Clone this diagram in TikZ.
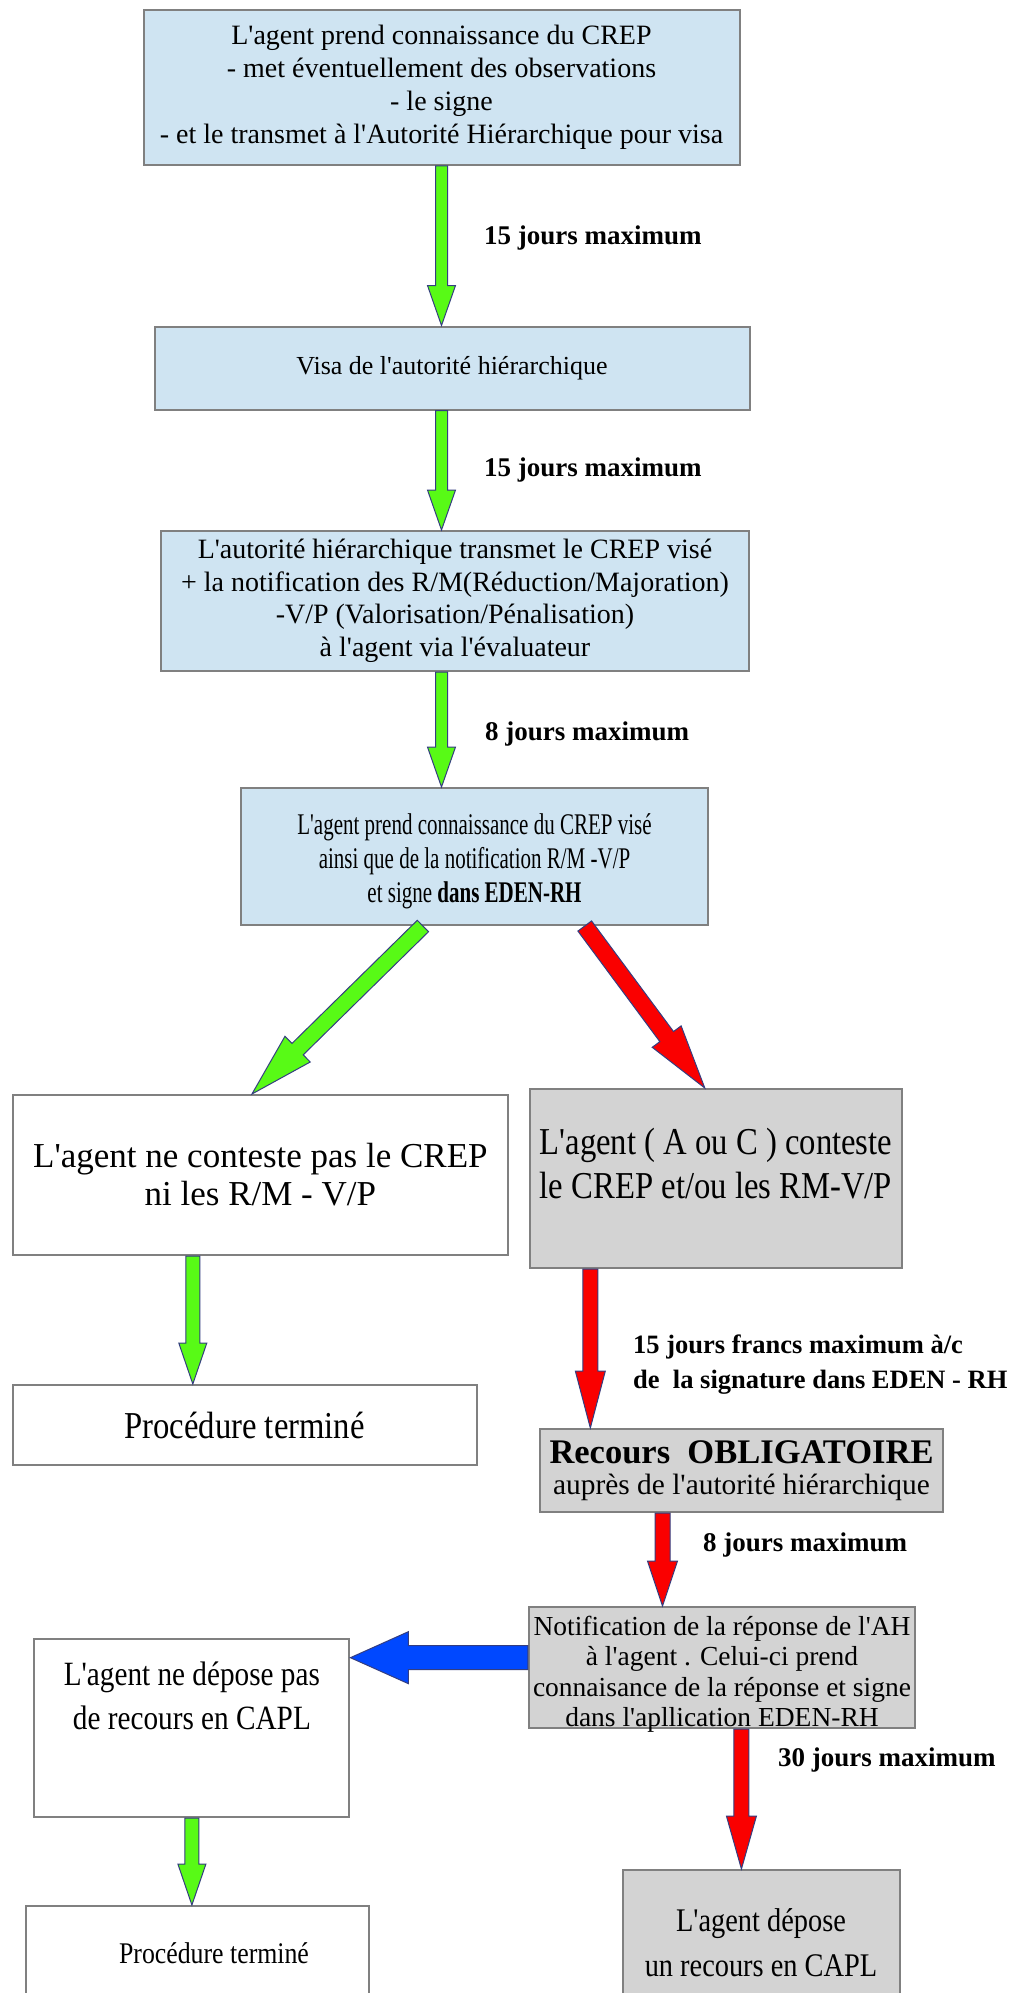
\documentclass[tikz,border=0pt]{standalone}
\usepackage{fontspec}
\setmainfont[Ligatures=TeXOff]{Liberation Serif}
\newfontfamily\tightserif[FakeStretch=0.70]{Liberation Serif}
\newfontfamily\slimserif[FakeStretch=0.86]{Liberation Serif}
\usetikzlibrary{calc}
\usetikzlibrary{arrows}
\definecolor{paleblue}{RGB}{207,228,242}
\definecolor{lightgrey}{RGB}{211,211,211}
\definecolor{boxline}{RGB}{128,128,128}
\definecolor{arrowgreen}{RGB}{88,250,22}
\definecolor{arrowred}{RGB}{250,0,0}
\definecolor{arrowblue}{RGB}{0,72,255}
\definecolor{arrowedge}{RGB}{52,62,128}
% #1 colour, #2 half shaft, #3 half head, #4 head length, #5 from, #6 to
\newcommand{\blockarrow}[6]{
	\coordinate (ta) at (#5);
	\coordinate (tb) at (#6);
	\coordinate (th) at ($(tb)!#4!(ta)$);
	\draw[arrowline,fill=#1] ($(ta)!#2!90:(tb)$) -- ($(th)!#2!90:(tb)$) --
	($(th)!#3!90:(tb)$) -- (tb) -- ($(th)!#3!-90:(tb)$) --
	($(th)!#2!-90:(tb)$) -- ($(ta)!#2!-90:(tb)$) -- cycle;}
\begin{document}
\begin{tikzpicture}[x=1pt,y=-1pt,
box/.style={draw=boxline,line width=2pt,align=center,inner sep=0pt},
bluebox/.style={box,fill=paleblue},
greybox/.style={box,fill=lightgrey},
whitebox/.style={box,fill=white},
delay/.style={anchor=west,inner sep=0pt,align=left,font=\bfseries\fontsize{27}{35}\selectfont},
arrowline/.style={draw=arrowedge,line width=1pt,line join=miter}]
\useasboundingbox (0,0) rectangle (1019,1993);
\fill[white] (0,0) rectangle (1019,1993);

% The main column
\node[bluebox,minimum width=596pt,minimum height=155pt,font=\fontsize{28}{33}\selectfont] (crep) at (441.5,87.5)
{L'agent prend connaissance du CREP\\- met éventuellement des observations\\- le signe\\- et le transmet à l'Autorité Hiérarchique pour visa};
\node[bluebox,minimum width=595pt,minimum height=83pt,font=\fontsize{26}{33}\selectfont] (visa) at (452,368)
{Visa de l'autorité hiérarchique};
\node[bluebox,minimum width=588pt,minimum height=140pt,font=\fontsize{28}{32.5}\selectfont] (transmit) at (455,601)
{L'autorité hiérarchique transmet le CREP visé\\+ la notification des R/M(Réduction/Majoration)\\-V/P (Valorisation/Pénalisation)\\à l'agent via l'évaluateur};
\node[bluebox,minimum width=467pt,minimum height=137pt,font=\tightserif\fontsize{30}{34}\selectfont] (agentsign) at (474.5,856.5)
{\rule{0pt}{31pt}L'agent prend connaissance du CREP visé\\ainsi que de la notification R/M -V/P\\et signe \textbf{dans EDEN-RH}};

% Left branch
\node[whitebox,minimum width=495pt,minimum height=160pt,font=\fontsize{35}{38}\selectfont] (nocontest) at (260.4,1175)
{L'agent ne conteste pas le CREP\\ni les R/M - V/P};
\node[whitebox,minimum width=464pt,minimum height=80pt,font=\slimserif\fontsize{38}{44}\selectfont] (endA) at (244.6,1425)
{Procédure terminé};

% Right branch
\node[greybox,minimum width=372pt,minimum height=179pt,font=\slimserif\fontsize{38}{44.5}\selectfont] (contest) at (716,1178.5)
{L'agent ( A ou C ) conteste\\le CREP et/ou les RM-V/P\\[-14pt]\mbox{}};
\node[greybox,minimum width=403pt,minimum height=83pt,font=\fontsize{29.4}{31.5}\selectfont] (recours) at (741.5,1470.5)
{{\bfseries\fontsize{34.5}{36}\selectfont Recours~ OBLIGATOIRE}\\auprès de l'autorité hiérarchique};
\node[greybox,minimum width=386.5pt,minimum height=121pt,text depth=0pt,font=\fontsize{27.5}{30.5}\selectfont] (notif) at (722,1667.5)
{\rule{0pt}{27pt}Notification de la réponse de l'AH\\à l'agent . Celui-ci prend\\connaisance de la réponse et signe\\dans l'apllication EDEN-RH};
\node[whitebox,minimum width=315pt,minimum height=178pt,font=\slimserif\fontsize{34}{44}\selectfont] (nodeposit) at (191.9,1728)
{L'agent ne dépose pas\\de recours en CAPL\\[20pt]\mbox{}};
\node[whitebox,minimum width=343pt,minimum height=94pt,font=\slimserif\fontsize{30}{36}\selectfont] (endB) at (197,1953)
{\hspace*{34pt}Procédure terminé};
\node[greybox,minimum width=277pt,minimum height=145pt,font=\slimserif\fontsize{33}{44.5}\selectfont] (capl) at (761,1942.5)
{L'agent dépose\\un recours en CAPL};

% The delays
\node[delay] (d1) at (484,238) {15 jours maximum};
\node[delay] (d2) at (484,470) {15 jours maximum};
\node[delay] (d3) at (485,734) {8 jours maximum};
\node[delay,font=\bfseries\fontsize{26.5}{35}\selectfont] (d4) at (633,1364.5) {15 jours francs maximum à/c\\de~ la signature dans EDEN - RH};
\node[delay] (d5) at (703,1545) {8 jours maximum};
\node[delay] (d6) at (778,1760) {30 jours maximum};

% Anchor points of the arrows
\coordinate (gs) at ($(agentsign.south west)!0.39!(agentsign.south east)$);
\coordinate (ge) at ($(nocontest.north west)!0.483!(nocontest.north east)$);
\coordinate (rs) at ($(agentsign.south west)!0.735!(agentsign.south east)$);
\coordinate (re) at ($(contest.north west)!0.47!(contest.north east)$);
\coordinate (r1) at ($(contest.south west)!0.164!(contest.south east)$);
\coordinate (r2) at ($(recours.south west)!0.305!(recours.south east)$);
\coordinate (r3) at ($(notif.south west)!0.55!(notif.south east)$);
\coordinate (g1) at ($(nocontest.south west)!0.364!(nocontest.south east)$);
\coordinate (b1) at ($(notif.north west)!0.42!(notif.south west)$);

% Green arrows
\blockarrow{arrowgreen}{6pt}{14pt}{40pt}{crep.south}{crep.south |- visa.north}
\blockarrow{arrowgreen}{6pt}{14pt}{40pt}{crep.south |- visa.south}{crep.south |- transmit.north}
\blockarrow{arrowgreen}{6pt}{14pt}{40pt}{crep.south |- transmit.south}{crep.south |- agentsign.north}
\blockarrow{arrowgreen}{8pt}{18pt}{64pt}{gs}{ge}
\blockarrow{arrowgreen}{7pt}{14pt}{41pt}{g1}{g1 |- endA.north}
\blockarrow{arrowgreen}{7pt}{14pt}{41pt}{nodeposit.south}{nodeposit.south |- endB.north}

% Red arrows
\blockarrow{arrowred}{8.5pt}{18pt}{64pt}{rs}{re}
\blockarrow{arrowred}{7.5pt}{15pt}{57pt}{r1}{r1 |- recours.north}
\blockarrow{arrowred}{7.5pt}{15pt}{45pt}{r2}{r2 |- notif.north}
\blockarrow{arrowred}{7.5pt}{15pt}{53pt}{r3}{r3 |- capl.north}

% Blue arrow
\blockarrow{arrowblue}{12pt}{26pt}{58pt}{b1}{b1 -| nodeposit.east}
\end{tikzpicture}
\end{document}
